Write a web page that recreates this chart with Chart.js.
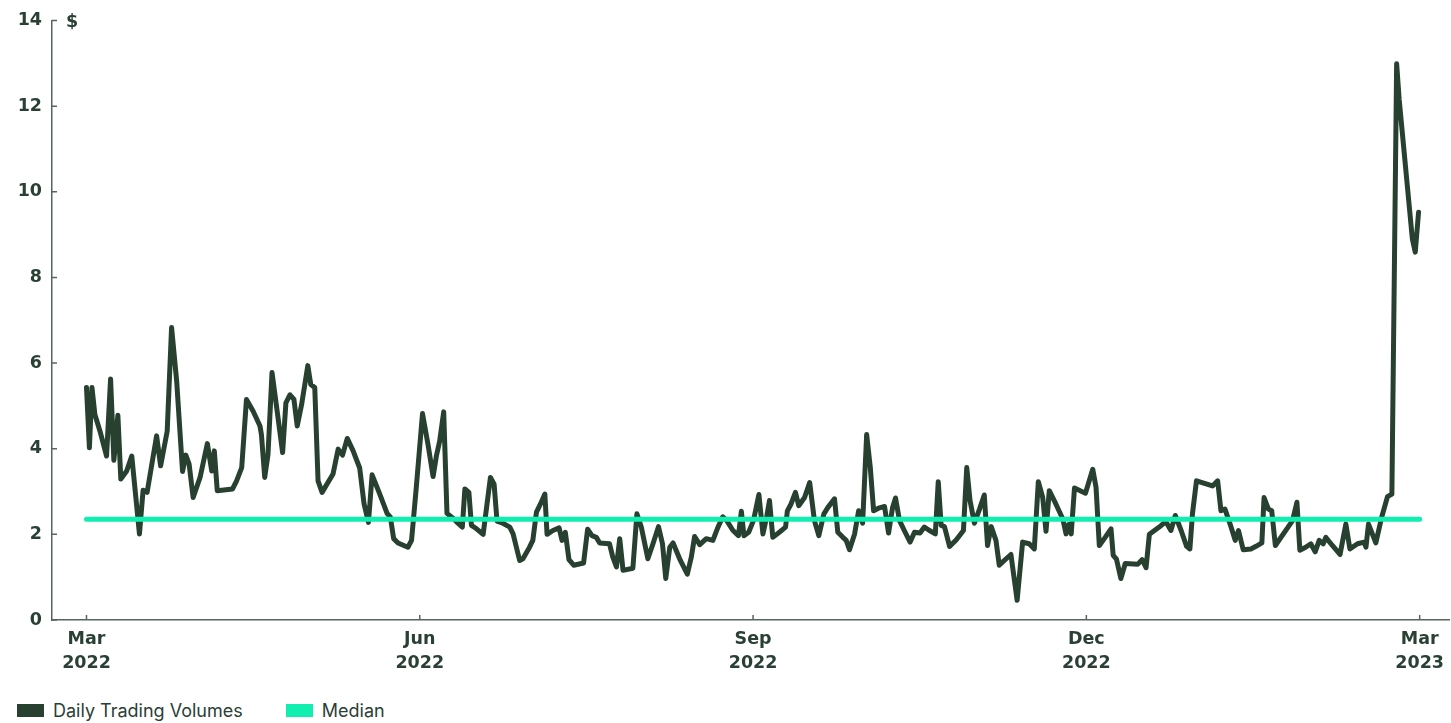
<!DOCTYPE html>
<html>
<head>
<meta charset="utf-8">
<script src="https://cdn.jsdelivr.net/npm/chart.js@4.4.0/dist/chart.umd.min.js"></script>
<style>
  body { margin: 0; background: #fff; }
  #wrap { position: relative; width: 1451px; height: 723px; }
  #box { position: absolute; left: 0; top: 0; width: 1451px; height: 690px; }
  .legend { position: absolute; top: 700px; left: 17px; display: flex; font: 400 18px Inter, sans-serif; color: #2a4035; }
  .legend span { display: flex; align-items: center; margin-right: 43px; }
  .legend i { display: inline-block; width: 27px; height: 13px; margin-right: 9px; }
</style>
</head>
<body>
<div id="wrap">
  <div id="box"><canvas id="chart"></canvas></div>
  <div class="legend">
    <span><i style="background:#27402f"></i>Daily Trading Volumes</span>
    <span><i style="background:#10eeb0"></i>Median</span>
  </div>
</div>
<script>
// days since 1 Mar 2022
const days = [
  0, 0.8, 1.5, 2.3, 3.7, 5.5, 6.6, 7.5, 8.6, 9.4, 11.0, 12.4, 14.5, 15.5, 16.6, 19.2, 20.3, 22.1, 23.3, 24.7,
  26.3, 27.2, 28.1, 29.2, 31.1, 33.1, 34.3, 35.0, 35.8, 40.0, 41.1, 42.5, 43.8, 45.6, 47.5, 47.9, 48.8, 49.7, 50.8, 52.2,
  53.7, 54.6, 55.7, 56.8, 57.7, 58.9, 60.6, 61.4, 62.5, 63.4, 64.5, 67.5, 68.9, 70.1, 71.4, 73.0, 74.8, 76.0, 77.2, 78.2,
  80.3, 82.3, 83.2, 84.1, 85.3, 88.0, 89.0, 90.3, 92.0, 93.5, 94.9, 95.8, 96.7, 97.8, 98.7, 100.6, 101.7, 102.9, 103.6, 104.7,
  105.4, 106.8, 108.6, 110.6, 111.6, 112.4, 114.0, 115.9, 116.8, 118.6, 119.5, 121.3, 122.2, 123.2, 124.3, 125.5, 126.1, 127.7, 129.4, 130.2,
  131.1, 132.1, 133.4, 136.1, 137.2, 138.4, 139.6, 140.5, 143.2, 144.1, 145.1, 146.0, 146.9, 149.6, 150.7, 151.9, 153.7, 155.1, 156.6, 157.7,
  158.6, 159.7, 160.6, 162.6, 164.5, 165.6, 166.5, 167.9, 169.7, 171.5, 172.9, 174.2, 175.3, 177.0, 178.5, 179.3, 180.0, 181.3, 182.6, 184.1,
  185.2, 186.3, 187.0, 187.9, 189.7, 191.4, 191.9, 192.9, 194.1, 195.0, 196.6, 198.0, 199.3, 200.5, 201.9, 203.0, 204.8, 205.7, 207.1, 208.0,
  208.9, 210.3, 211.4, 212.5, 213.6, 214.6, 215.5, 217.1, 218.5, 219.6, 220.7, 221.5, 222.6, 223.9, 225.5, 226.7, 228.2, 229.4, 230.8, 232.4,
  233.2, 234.0, 234.9, 236.3, 238.1, 240.1, 241.0, 241.9, 243.1, 244.5, 245.8, 246.7, 247.7, 249.0, 249.9, 251.8, 253.1, 254.8, 256.3, 258.1,
  259.5, 260.6, 261.8, 262.7, 263.6, 265.4, 267.3, 268.2, 268.9, 269.6, 270.5, 273.5, 275.5, 276.4, 277.3, 278.9, 280.5, 281.1, 282.0, 283.2,
  284.4, 287.8, 289.0, 290.1, 291.0, 293.7, 295.5, 296.9, 298.1, 299.7, 301.2, 302.1, 302.8, 303.9, 308.3, 309.7, 310.6, 311.7, 313.1, 314.5,
  315.4, 316.7, 318.8, 320.2, 321.8, 322.4, 323.6, 324.5, 325.5, 329.3, 330.2, 331.4, 332.2, 333.8, 335.2, 336.4, 337.5, 338.6, 339.3, 341.1,
  343.2, 344.8, 345.9, 348.0, 349.8, 350.3, 351.0, 353.0, 354.6, 356.2, 357.4, 358.7, 359.4, 363.0, 363.8, 364.7
];
// daily trading volume, $
const volumes = [
  5.43, 4.02, 5.43, 4.80, 4.41, 3.83, 5.63, 3.73, 4.78, 3.29, 3.48, 3.83, 2.01, 3.03, 2.98, 4.30, 3.60, 4.41, 6.83, 5.57,
  3.47, 3.85, 3.64, 2.86, 3.33, 4.12, 3.48, 3.95, 3.02, 3.06, 3.25, 3.56, 5.15, 4.88, 4.53, 4.33, 3.33, 3.87, 5.78, 4.88,
  3.91, 5.07, 5.26, 5.15, 4.53, 5.03, 5.94, 5.50, 5.43, 3.25, 2.98, 3.41, 3.99, 3.85, 4.24, 3.95, 3.55, 2.71, 2.28, 3.39,
  2.94, 2.49, 2.40, 1.90, 1.80, 1.70, 1.86, 3.10, 4.82, 4.10, 3.35, 3.83, 4.18, 4.86, 2.49, 2.36, 2.26, 2.17, 3.06, 2.98,
  2.21, 2.13, 2.00, 3.33, 3.17, 2.31, 2.26, 2.17, 2.01, 1.39, 1.43, 1.70, 1.86, 2.52, 2.71, 2.94, 2.00, 2.09, 2.15, 1.86,
  2.05, 1.41, 1.28, 1.33, 2.12, 1.97, 1.93, 1.80, 1.78, 1.47, 1.24, 1.90, 1.16, 1.21, 2.48, 2.17, 1.43, 1.78, 2.18, 1.78,
  0.97, 1.70, 1.80, 1.39, 1.07, 1.47, 1.95, 1.76, 1.90, 1.86, 2.17, 2.41, 2.32, 2.09, 1.97, 2.54, 1.97, 2.05, 2.32, 2.93,
  2.01, 2.44, 2.79, 1.93, 2.05, 2.17, 2.55, 2.71, 2.98, 2.67, 2.86, 3.21, 2.32, 1.97, 2.48, 2.63, 2.83, 2.05, 1.93, 1.86,
  1.64, 2.01, 2.55, 2.26, 4.33, 3.56, 2.55, 2.62, 2.65, 2.03, 2.63, 2.85, 2.32, 2.09, 1.82, 2.05, 2.03, 2.17, 2.09, 2.01,
  3.23, 2.21, 2.18, 1.72, 1.87, 2.09, 3.56, 2.79, 2.26, 2.59, 2.92, 1.74, 2.18, 1.86, 1.28, 1.43, 1.53, 0.46, 1.82, 1.78,
  1.66, 3.23, 2.86, 2.07, 3.02, 2.71, 2.36, 2.01, 2.23, 2.01, 3.08, 2.96, 3.52, 3.10, 1.74, 1.93, 2.13, 1.51, 1.42, 0.97,
  1.32, 1.30, 1.41, 1.22, 2.00, 2.17, 2.30, 2.09, 2.44, 2.09, 1.72, 1.66, 2.48, 3.25, 3.13, 3.25, 2.55, 2.59, 2.24, 1.86,
  2.09, 1.64, 1.66, 1.72, 1.80, 2.86, 2.59, 2.55, 1.74, 2.21, 2.32, 2.75, 1.63, 1.70, 1.78, 1.59, 1.86, 1.78, 1.93, 1.74,
  1.53, 2.24, 1.66, 1.78, 1.82, 1.70, 2.24, 1.80, 2.40, 2.88, 2.94, 12.99, 12.15, 8.90, 8.59, 9.52
];
const medianValue = 2.35;
const tickDays = [0, 91.25, 182.5, 273.75, 365];
const tickLabels = [['Mar', '2022'], ['Jun', '2022'], ['Sep', '2022'], ['Dec', '2022'], ['Mar', '2023']];
const yTicks = [0, 2, 4, 6, 8, 10, 12, 14];

const ink = '#2a4035';
const axisColor = '#56665e';
const tickFont = { family: 'DejaVu Sans', weight: '700', size: 17.5 };

// ticks are drawn inside the plot area, plus the "$" unit label
const innerTicks = {
  id: 'innerTicks',
  afterDraw(chart) {
    const { ctx, chartArea, scales } = chart;
    ctx.save();
    ctx.strokeStyle = axisColor;
    ctx.lineWidth = 1.5;
    ctx.beginPath();
    scales.y.ticks.forEach(t => {
      const y = scales.y.getPixelForValue(t.value);
      ctx.moveTo(chartArea.left, y);
      ctx.lineTo(chartArea.left + 5, y);
    });
    scales.x.ticks.forEach(t => {
      const x = scales.x.getPixelForValue(t.value);
      ctx.moveTo(x, chartArea.bottom);
      ctx.lineTo(x, chartArea.bottom - 5);
    });
    ctx.stroke();
    ctx.fillStyle = ink;
    ctx.font = '700 17.5px "DejaVu Sans", sans-serif';
    ctx.textBaseline = 'middle';
    ctx.fillText('$', chartArea.left + 14, chartArea.top + 2);
    ctx.restore();
  }
};

new Chart(document.getElementById('chart'), {
  type: 'line',
  data: {
    datasets: [
      {
        label: 'Daily Trading Volumes',
        data: days.map((d, i) => ({ x: d, y: volumes[i] })),
        borderColor: '#27402f',
        borderWidth: 5,
        borderJoinStyle: 'round',
        borderCapStyle: 'round',
        pointRadius: 0,
        tension: 0,
        order: 1
      },
      {
        label: 'Median',
        data: [{ x: 0, y: medianValue }, { x: 365, y: medianValue }],
        borderColor: '#10eeb0',
        borderWidth: 5,
        borderCapStyle: 'round',
        pointRadius: 0,
        order: 0
      }
    ]
  },
  options: {
    responsive: true,
    maintainAspectRatio: false,
    animation: false,
    layout: { padding: { top: 17, right: 0, left: 0, bottom: 0 } },
    plugins: { legend: { display: false }, tooltip: { enabled: false } },
    scales: {
      x: {
        type: 'linear',
        min: -9.44,
        max: 373.3,
        grid: { display: false, drawTicks: false },
        border: { display: true, color: axisColor, width: 1.5 },
        afterBuildTicks(scale) { scale.ticks = tickDays.map(v => ({ value: v })); },
        afterFit(scale) { scale.height = 70; },
        ticks: {
          autoSkip: false,
          maxRotation: 0,
          padding: 7,
          color: ink,
          font: { ...tickFont, lineHeight: 1.37 },
          callback: (v, i) => tickLabels[i]
        }
      },
      y: {
        min: 0,
        max: 14,
        grid: { display: false, drawTicks: false },
        border: { display: true, color: axisColor, width: 1.5 },
        afterBuildTicks(scale) { scale.ticks = yTicks.map(v => ({ value: v })); },
        afterFit(scale) { scale.width = 52; },
        ticks: {
          padding: 10,
          color: ink,
          font: tickFont
        }
      }
    }
  },
  plugins: [innerTicks]
});
</script>
</body>
</html>
